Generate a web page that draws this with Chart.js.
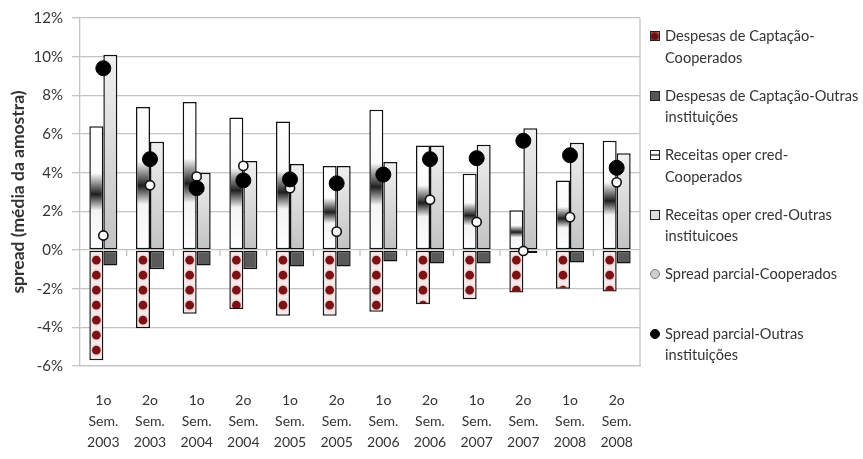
<!DOCTYPE html>
<html>
<head>
<meta charset="utf-8">
<script src="https://cdn.jsdelivr.net/npm/chart.js@4"></script>
<style>
  body { margin: 0; background: #fff; }
  #wrap { position: relative; width: 863px; height: 459px; overflow: hidden; }
  #legend { position: absolute; left: 650px; top: 25px; width: 260px; font-family: Lato, sans-serif; font-size: 14.6px; color: #333; }
  .item { display: flex; align-items: flex-start; height: 59.5px; }
  .sw { width: 8px; height: 8px; margin-top: 6px; margin-right: 5px; border: 1px solid #222; flex: none; }
  .txt { white-space: pre; line-height: 21.5px; }
</style>
</head>
<body>
<div id="wrap">
  <canvas id="chart" width="863" height="459"></canvas>
  <div id="legend"></div>
</div>
<script>
const categories = [
  ['1o', 'Sem.', '2003'], ['2o', 'Sem.', '2003'], ['1o', 'Sem.', '2004'], ['2o', 'Sem.', '2004'],
  ['1o', 'Sem.', '2005'], ['2o', 'Sem.', '2005'], ['1o', 'Sem.', '2006'], ['2o', 'Sem.', '2006'],
  ['1o', 'Sem.', '2007'], ['2o', 'Sem.', '2007'], ['1o', 'Sem.', '2008'], ['2o', 'Sem.', '2008']
];
const despCoop = [-5.7, -4.05, -3.3, -3.05, -3.4, -3.4, -3.2, -2.8, -2.55, -2.2, -2.0, -2.15];
const despOutras = [-0.8, -1.0, -0.8, -1.0, -0.85, -0.85, -0.6, -0.7, -0.7, -0.15, -0.65, -0.7];
const recCoop = [6.4, 7.4, 7.65, 6.85, 6.65, 4.35, 7.25, 5.4, 3.95, 2.05, 3.6, 5.65];
const recOutras = [10.1, 5.6, 4.0, 4.6, 4.45, 4.35, 4.55, 5.4, 5.45, 6.3, 5.55, 5.0];
const spreadCoop = [0.75, 3.35, 3.8, 4.35, 3.2, 0.95, 4.0, 2.6, 1.45, -0.05, 1.7, 3.5];
const spreadOutras = [9.4, 4.7, 3.2, 3.6, 3.65, 3.45, 3.9, 4.7, 4.75, 5.65, 4.9, 4.25];
const yTicks = [-6, -4, -2, 0, 2, 4, 6, 8, 10, 12];

const labels = [
  'Despesas de Captação-\nCooperados',
  'Despesas de Captação-Outras\ninstituições',
  'Receitas oper cred-\nCooperados',
  'Receitas oper cred-Outras\ninstituicoes',
  'Spread parcial-Cooperados',
  'Spread parcial-Outras\ninstituições'
];

const gridColor = '#c4c4c4';

function coopFill(ctx) {
  const y = ctx.chart.scales.y;
  if (!y || ctx.type !== 'data') return '#ffffff';
  const top = y.getPixelForValue(ctx.raw), base = y.getPixelForValue(0);
  if (!isFinite(top) || !isFinite(base) || top === base) return '#ffffff';
  const g = ctx.chart.ctx.createLinearGradient(0, base, 0, top);
  g.addColorStop(0, '#ffffff');
  g.addColorStop(0.32, '#f4f4f4');
  g.addColorStop(0.45, '#1e1e1e');
  g.addColorStop(0.62, '#fbfbfb');
  g.addColorStop(1, '#ffffff');
  return g;
}

function outrasFill(ctx) {
  const y = ctx.chart.scales.y;
  if (!y || ctx.type !== 'data') return '#dddddd';
  const top = y.getPixelForValue(ctx.raw), base = y.getPixelForValue(0);
  if (!isFinite(top) || !isFinite(base) || top === base) return '#dddddd';
  const g = ctx.chart.ctx.createLinearGradient(0, top, 0, base);
  g.addColorStop(0, '#f0f0f0');
  g.addColorStop(1, '#c2c2c2');
  return g;
}

// red dots inside the "Despesas de Captação-Cooperados" bars
const dotsPlugin = {
  id: 'dots',
  afterDatasetDraw(chart, args) {
    if (args.index !== 0) return;
    const c = chart.ctx;
    args.meta.data.forEach(bar => {
      const p = bar.getProps(['x', 'y', 'base', 'width']);
      const left = p.x - p.width / 2, top = Math.min(p.y, p.base), h = Math.abs(p.y - p.base);
      c.save();
      c.beginPath();
      c.rect(left + 1, top + 1, p.width - 2, h - 2);
      c.clip();
      for (let cy = top + 9.5; cy < top + h + 5; cy += 15) {
        const halo = c.createRadialGradient(p.x, cy, 3, p.x, cy, 8);
        halo.addColorStop(0, 'rgba(200,120,120,0.55)');
        halo.addColorStop(1, 'rgba(255,255,255,0)');
        c.fillStyle = halo;
        c.fillRect(left, cy - 8, p.width, 16);
        c.beginPath();
        c.arc(p.x, cy, 4.3, 0, Math.PI * 2);
        c.fillStyle = '#7a1216';
        c.fill();
      }
      c.restore();
    });
  }
};

// right border of the plot and small category ticks on the 0% line
const framePlugin = {
  id: 'frame',
  beforeDatasetsDraw(chart) {
    const c = chart.ctx, a = chart.chartArea, x = chart.scales.x, y = chart.scales.y;
    const y0 = y.getPixelForValue(0);
    const step = (a.right - a.left) / categories.length;
    c.save();
    c.strokeStyle = gridColor;
    c.lineWidth = 1.3;
    c.beginPath();
    c.moveTo(a.right, a.top);
    c.lineTo(a.right, a.bottom);
    for (let i = 1; i < categories.length; i++) {
      const px = x.getPixelForValue(i) - step / 2;
      c.moveTo(px, y0 - 1);
      c.lineTo(px, y0 + 6);
    }
    c.stroke();
    c.restore();
  }
};

const barCommon = { borderColor: '#111', borderWidth: 1.5, borderSkipped: false, order: 2 };

const chart = new Chart(document.getElementById('chart'), {
  type: 'bar',
  data: {
    labels: categories,
    datasets: [
      { ...barCommon, label: labels[0], data: despCoop, stack: 'coop', backgroundColor: '#f6eaea' },
      { ...barCommon, label: labels[1], data: despOutras, stack: 'outras', backgroundColor: '#595959' },
      { ...barCommon, label: labels[2], data: recCoop, stack: 'coop', backgroundColor: coopFill },
      { ...barCommon, label: labels[3], data: recOutras, stack: 'outras', backgroundColor: outrasFill },
      { type: 'line', label: labels[4], data: spreadCoop, stack: 'p1', showLine: false, order: 1,
        pointRadius: 4.6, pointBackgroundColor: '#ffffff', pointBorderColor: '#111', pointBorderWidth: 1.6 },
      { type: 'line', label: labels[5], data: spreadOutras, stack: 'p2', showLine: false, order: 0,
        pointRadius: 7.5, pointBackgroundColor: '#000000', pointBorderColor: '#000', pointBorderWidth: 1 }
    ]
  },
  options: {
    responsive: false,
    animation: false,
    categoryPercentage: 0.6,
    barPercentage: 1,
    layout: { padding: { left: 0, right: 223, top: 16, bottom: 0 } },
    plugins: { legend: { display: false }, tooltip: { enabled: false } },
    scales: {
      x: {
        stacked: true,
        grid: { display: false },
        border: { display: true, color: gridColor, width: 1.3 },
        ticks: { color: '#333', padding: 16, maxRotation: 0, autoSkip: false,
          font: { family: 'Lato', size: 14, lineHeight: 1.5 } },
        afterFit: s => { s.height = 93; }
      },
      y: {
        stacked: true,
        min: -6, max: 12,
        afterBuildTicks: s => { s.ticks = yTicks.map(v => ({ value: v })); },
        grid: { color: gridColor, lineWidth: 1.3, tickLength: 8 },
        border: { color: gridColor, width: 1.3 },
        ticks: { color: '#333', padding: 9, callback: v => v + '%',
          font: { family: 'Lato', size: 15 } },
        title: { display: true, text: 'spread (média da amostra)', color: '#333', padding: { top: 8, bottom: 0 },
          font: { family: 'Lato', size: 17.5, weight: 'bold' } },
        afterFit: s => { s.width = 80; }
      }
    }
  },
  plugins: [dotsPlugin, framePlugin]
});

// legend built from the chart's datasets
const swatches = [
  'background: radial-gradient(circle at 45% 55%, #6e0d10 45%, #c78a8a 100%);',
  'background: #555;',
  'background: linear-gradient(#fff 30%, #333 50%, #fff 70%);',
  'background: #dcdcdc;',
  'background: #cfcfcf; border-radius: 50%; border-color: #777;',
  'background: #000; border-radius: 50%; border-color: #000;'
];
const legend = document.getElementById('legend');
chart.data.datasets.forEach((ds, i) => {
  const item = document.createElement('div');
  item.className = 'item';
  const sw = document.createElement('span');
  sw.className = 'sw';
  sw.style.cssText = swatches[i];
  const txt = document.createElement('span');
  txt.className = 'txt';
  txt.textContent = ds.label;
  item.appendChild(sw);
  item.appendChild(txt);
  legend.appendChild(item);
});
</script>
</body>
</html>
